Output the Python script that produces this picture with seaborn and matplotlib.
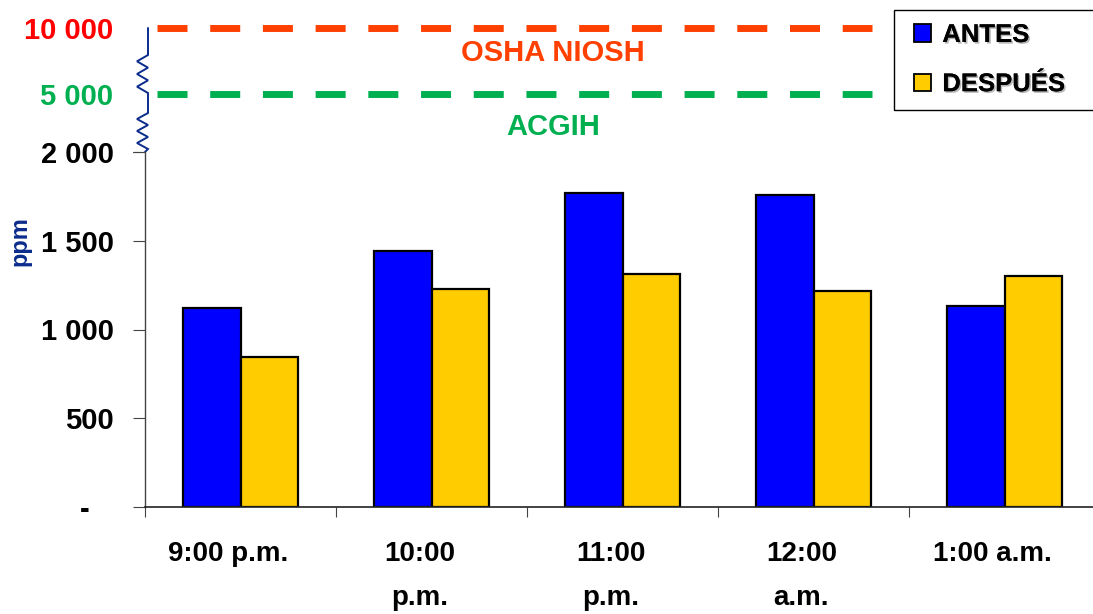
import numpy as np
import pandas as pd
import seaborn as sns
import matplotlib
matplotlib.use("Agg")
import matplotlib.pyplot as plt
from matplotlib.patches import Patch, Rectangle
from matplotlib.ticker import FixedLocator, FixedFormatter, NullFormatter
from matplotlib.transforms import ScaledTranslation
import matplotlib.patheffects as pe

# --- data -----------------------------------------------------------------
HOURS = ["9:00 p.m.", "10:00\np.m.", "11:00\np.m.", "12:00\na.m.", "1:00 a.m."]
ANTES = [1120, 1445, 1770, 1760, 1130]
DESPUES = [845, 1230, 1315, 1215, 1300]
SERIES = ["ANTES", "DESPUÉS"]

LIMIT_VALUES = [10000, 5000]
LIMIT_NAMES = ["OSHA NIOSH", "ACGIH"]

YTICKS = [0, 500, 1000, 1500, 2000]
YTICK_LABELS = ["-   ", "500", "1 000", "1 500", "2 000"]
UPPER_TICKS = [5000, 10000]
UPPER_LABELS = ["5 000", "10 000"]

# --- style ----------------------------------------------------------------
BLUE = "#0000FF"
YELLOW = "#FFCC00"
ORANGE = "#FF4000"
RED = "#FF0000"
GREEN = "#00B050"
NAVY = "#0B2C8C"

sns.set_theme(style="white")
plt.rcParams["font.family"] = ["Liberation Sans", "DejaVu Sans"]
plt.rcParams["font.weight"] = "bold"
plt.rcParams["text.color"] = "black"
plt.rcParams["xtick.labelcolor"] = "black"
plt.rcParams["ytick.labelcolor"] = "black"

W, H = 1093, 614
fig = plt.figure(figsize=(W / 100, H / 100), dpi=100)
ax = fig.add_axes([145 / W, (H - 507) / H, 955 / W, 507 / H])

df = pd.DataFrame({
    "hora": HOURS * 2,
    "ppm": ANTES + DESPUES,
    "serie": [SERIES[0]] * len(HOURS) + [SERIES[1]] * len(HOURS),
})

sns.barplot(data=df, x="hora", y="ppm", hue="serie", order=HOURS,
            hue_order=SERIES, palette=[BLUE, YELLOW], saturation=1,
            width=0.6, gap=0, edgecolor="black", linewidth=1.6,
            legend=False, ax=ax)

# broken value axis: piecewise-linear scale, compressed above 2 000 ppm
BREAKS = [-10000, 0, 2000, 5000, 10000, 20000]
PIX = [-1775, 0, 355, 413, 479, 611]


def fwd(v):
    return np.interp(v, BREAKS, PIX)


def inv(p):
    return np.interp(p, PIX, BREAKS)


ax.set_yscale("function", functions=(fwd, inv))
ax.set_ylim(0, inv(507))
ax.set_xlim(-0.5, len(HOURS) - 0.5)

ax.set_xlabel("")
ax.set_ylabel("ppm", color=NAVY, fontsize=17, fontweight="bold",
              va="center", ha="center")
ax.yaxis.set_label_coords(-0.131, 0.525)

# y ticks
ax.yaxis.set_major_locator(FixedLocator(YTICKS))
ax.yaxis.set_major_formatter(FixedFormatter(YTICK_LABELS))
ax.yaxis.set_minor_locator(FixedLocator(UPPER_TICKS))
ax.yaxis.set_minor_formatter(FixedFormatter(UPPER_LABELS))
ax.tick_params(axis="y", which="major", left=True, length=8.6, width=0.8,
               color="#444444", pad=14, labelsize=21, labelcolor="black")
ax.tick_params(axis="y", which="minor", left=True, length=0, pad=23,
               labelsize=21)
for lab, col in zip(ax.yaxis.get_minorticklabels(), [GREEN, RED]):
    lab.set_color(col)
for lab in ax.get_yticklabels():
    lab.set_fontweight("bold")
for lab in ax.yaxis.get_minorticklabels():
    lab.set_fontweight("bold")

# x ticks: labels at category centres, tick marks on category boundaries
ax.xaxis.set_major_locator(FixedLocator(range(len(HOURS))))
ax.xaxis.set_major_formatter(FixedFormatter(HOURS))
ax.xaxis.set_minor_locator(FixedLocator(np.arange(-0.5, len(HOURS), 1.0)))
ax.xaxis.set_minor_formatter(NullFormatter())
ax.tick_params(axis="x", which="major", bottom=True, length=0, pad=24.5,
               labelsize=20, labelcolor="black")
ax.tick_params(axis="x", which="minor", bottom=True, length=7.5, width=0.8,
               color="#444444")
shift = ScaledTranslation(-12 / 100, 0, fig.dpi_scale_trans)
for lab in ax.get_xticklabels():
    lab.set_fontweight("bold")
    lab.set_linespacing(1.92)
    lab.set_transform(lab.get_transform() + shift)

for side in ["top", "right"]:
    ax.spines[side].set_visible(False)
ax.spines["left"].set_bounds(0, 2000)
ax.spines["left"].set_color("#444444")
ax.spines["left"].set_linewidth(1.0)
ax.spines["bottom"].set_color("#222222")
ax.spines["bottom"].set_linewidth(1.2)

# axis-break glyph above 2 000 ppm
ytf = ax.get_yaxis_transform()


def zigzag(v_top, v_bot, n=3, xr=148, xl=137):
    p_top, p_bot = fwd(v_top), fwd(v_bot)
    ps = np.linspace(p_top, p_bot, 2 * n + 1)
    xs = [xr if i % 2 == 0 else xl for i in range(len(ps))]
    return [(x - 145) / 955 for x in xs], list(inv(ps))


xs = [(148 - 145) / 955]
ys = [10000]
for top, bot in [(inv(452), inv(414)), (inv(394), inv(358))]:
    zx, zy = zigzag(top, bot)
    xs += zx
    ys += zy
xs += [(145 - 145) / 955]
ys += [2000]
ax.plot(xs, ys, color=NAVY, lw=1.4, transform=ytf, clip_on=False,
        solid_joinstyle="miter")
ax.plot([(133 - 145) / 955, 0], [2000, 2000], color="#444444", lw=0.8,
        transform=ytf, clip_on=False)

# exposure limits
for val, name, col, off in zip(LIMIT_VALUES, LIMIT_NAMES, [ORANGE, GREEN],
                               [-18.3, -24.0]):
    ax.axhline(val, xmin=(157 - 145) / 955, xmax=(872 - 145) / 955,
               color=col, lw=5, ls=(0, (4.32, 3.27)))
    ax.annotate(name, xy=(1.636, val), xytext=(0, off),
                textcoords="offset points", ha="center", va="center",
                color=col, fontsize=21, fontweight="bold")

# legend
fig.add_artist(Rectangle((894 / W, 1 - 110 / H), 220 / W, 100 / H,
                         transform=fig.transFigure, fill=False,
                         ec="black", lw=1.0))
handles = [Patch(facecolor=c, edgecolor="black", linewidth=1.3)
           for c in [BLUE, YELLOW]]
leg = fig.legend(handles, SERIES, loc="upper left",
                 bbox_to_anchor=(914 / W, 1 - 23 / H), frameon=False,
                 borderpad=0, borderaxespad=0, handlelength=0.65,
                 handleheight=0.65, handletextpad=0.45, labelspacing=0.98,
                 prop={"size": 18.5, "weight": "bold"})
for t in leg.get_texts():
    t.set_color("black")
    t.set_path_effects([pe.withSimplePatchShadow(offset=(1.2, -1.2),
                                                 shadow_rgbFace="#888888",
                                                 alpha=0.6), pe.Normal()])

fig.savefig("out.png", dpi=100)
